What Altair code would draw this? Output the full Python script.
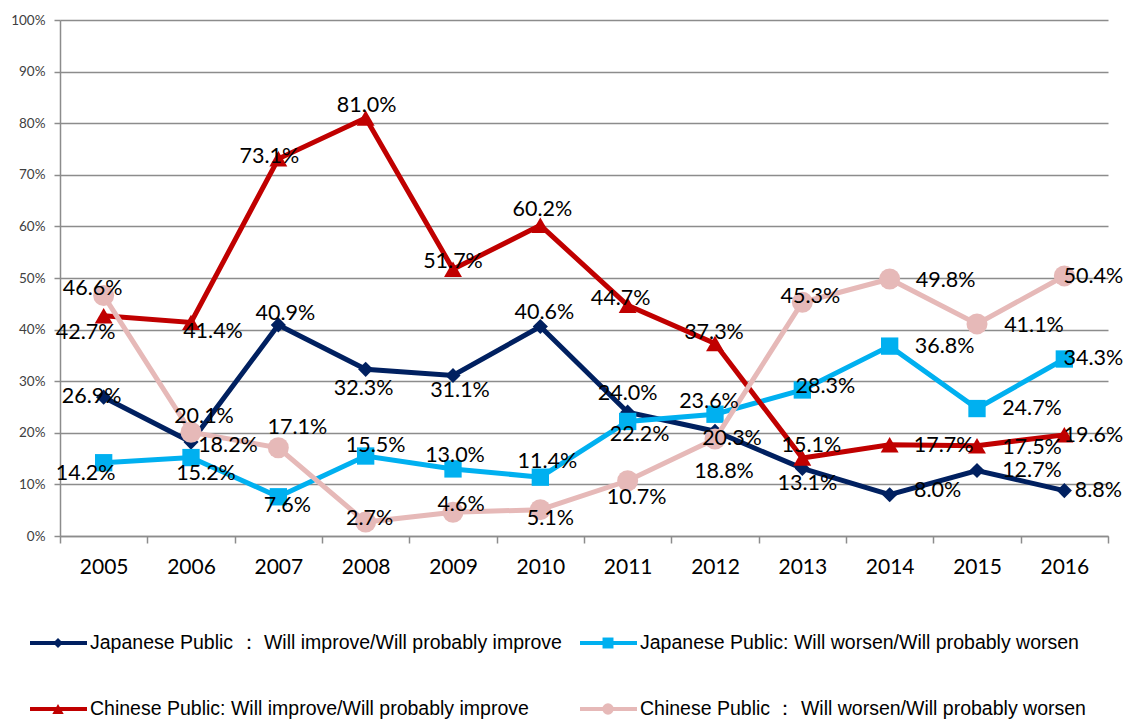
import altair as alt
import pandas as pd

years = [str(y) for y in range(2005, 2017)]

series_names = [
    "Japanese Public ： Will improve/Will probably improve",
    "Japanese Public: Will worsen/Will probably worsen",
    "Chinese Public: Will improve/Will probably improve",
    "Chinese Public ： Will worsen/Will probably worsen",
]
jp_improve = [26.9, 18.2, 40.9, 32.3, 31.1, 40.6, 24.0, 20.3, 13.1, 8.0, 12.7, 8.8]
jp_worsen = [14.2, 15.2, 7.6, 15.5, 13.0, 11.4, 22.2, 23.6, 28.3, 36.8, 24.7, 34.3]
cn_improve = [42.7, 41.4, 73.1, 81.0, 51.7, 60.2, 44.7, 37.3, 15.1, 17.7, 17.5, 19.6]
cn_worsen = [46.6, 20.1, 17.1, 2.7, 4.6, 5.1, 10.7, 18.8, 45.3, 49.8, 41.1, 50.4]
series_values = [jp_improve, jp_worsen, cn_improve, cn_worsen]

# styles
colors = ["#002060", "#00b0f0", "#c00000", "#e6b9b8"]
shapes = ["diamond", "square", "triangle-up", "circle"]
marker_sizes = [230, 300, 320, 440]
legend_marker_sizes = [100, 120, 130, 130]

# label offsets (dx, dy) in pixels for each series' data labels
label_offsets = [
    [(-12, 0), (37, 4), (7, -11), (-2, 20), (7, 15), (4, -14), (0, -18), (17, 8), (5, 16), (48, -4), (55, 1), (34, 0)],
    [(-18, 11), (15, 16), (9, 9), (10, -10), (2, -13), (7, -15), (12, 14), (-6, -12), (23, -3), (55, 1), (55, 0), (29, 0)],
    [(-18, 17), (22, 10), (-9, -2), (1, -12), (0, -7), (2, -15), (-7, -6), (-1, -11), (9, -12), (54, 1), (55, 2), (29, 1)],
    [(-11, -7), (13, -15), (19, -20), (4, -3), (8, -7), (10, 9), (9, 17), (9, 33), (8, -5), (56, 2), (57, 2), (29, 1)],
]

W, H = 1048, 516
GRAY = "#8c8c8c"

x_scale = alt.Scale(type="band", domain=years, paddingInner=0, paddingOuter=0)
y_scale = alt.Scale(domain=[0, 100], nice=False)

x_axis = alt.Axis(
    title=None, tickBand="extent", labelFont="Lato", labelFontSize=21,
    labelColor="#000000", domainColor=GRAY, domainWidth=1.5, tickColor=GRAY,
    tickWidth=1.5, tickSize=7, labelPadding=13, grid=False, labelAngle=0,
)
y_axis = alt.Axis(
    title=None, values=list(range(0, 101, 10)), labelExpr="datum.value + '%'",
    labelFont="Lato", labelFontSize=13.5, labelColor="#404040", domainColor=GRAY,
    domainWidth=1.5, tickColor=GRAY, tickWidth=1.5, tickSize=6, labelPadding=9,
    grid=True, gridColor=GRAY, gridWidth=1.5,
)

X = alt.X("year:O", scale=x_scale, axis=x_axis)
Y = alt.Y("value:Q", scale=y_scale, axis=y_axis)

layers = []
for i, vals in enumerate(series_values):
    df = pd.DataFrame({"year": years, "value": vals})
    base = alt.Chart(df).encode(x=X, y=Y)
    layers.append(base.mark_line(color=colors[i], strokeWidth=5))
    layers.append(
        base.mark_point(filled=True, shape=shapes[i], size=marker_sizes[i],
                        color=colors[i], opacity=1)
    )

for i, vals in enumerate(series_values):
    for j, v in enumerate(vals):
        dx, dy = label_offsets[i][j]
        d = pd.DataFrame({"year": [years[j]], "value": [v], "label": [f"{v:.1f}%"]})
        layers.append(
            alt.Chart(d).mark_text(
                dx=dx, dy=dy, font="Lato", fontSize=21.5, color="#000000",
                align="center", baseline="middle",
            ).encode(x=X, y=Y, text="label:N")
        )

# legend (below the plot)
for k, name in enumerate(series_names):
    row, col = k // 2, k % 2
    lx0 = -30 + col * 550
    ly = 623 + row * 66
    d = pd.DataFrame({"label": [name]})
    c = alt.Chart(d)
    layers.append(
        c.mark_rule(color=colors[k], strokeWidth=4).encode(
            x=alt.value(lx0), x2=alt.value(lx0 + 57), y=alt.value(ly))
    )
    layers.append(
        c.mark_point(filled=True, shape=shapes[k], size=legend_marker_sizes[k],
                     color=colors[k], opacity=1).encode(
            x=alt.value(lx0 + 28), y=alt.value(ly))
    )
    layers.append(
        c.mark_text(align="left", baseline="middle", font="Liberation Sans",
                    fontSize=19.5, color="#000000").encode(
            x=alt.value(lx0 + 60), y=alt.value(ly), text="label:N")
    )

chart = alt.layer(*layers).properties(
    width=W, height=H,
    padding={"left": 52, "top": 12, "right": 16, "bottom": 186},
    autosize=alt.AutoSizeParams(type="none"),
).configure_view(strokeWidth=0)

chart.save("out.html", embed_options={"renderer": "svg", "actions": False})
